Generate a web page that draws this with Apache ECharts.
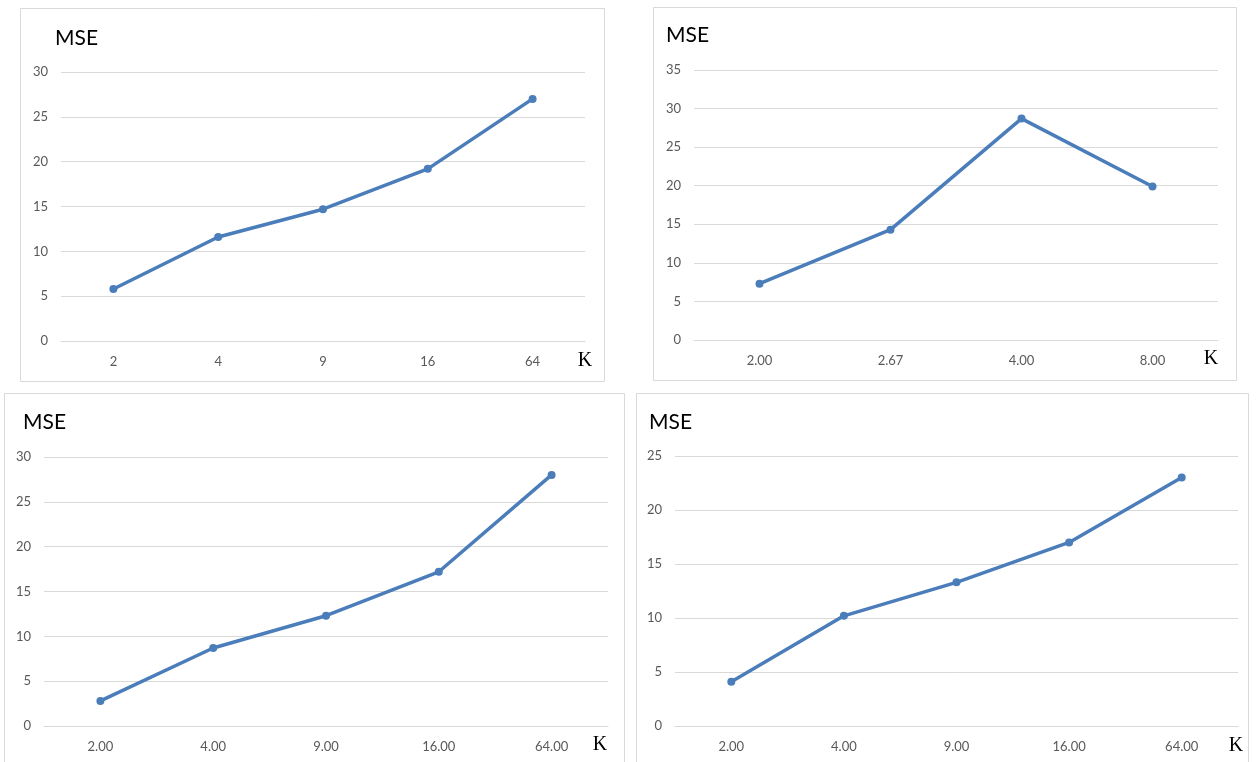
<!DOCTYPE html>
<html>
<head>
<meta charset="utf-8">
<title>MSE vs K</title>
<script src="https://cdn.jsdelivr.net/npm/echarts@6/dist/echarts.min.js"></script>
<style>
  html, body { margin: 0; padding: 0; background: #ffffff; }
  #chart { width: 1258px; height: 762px; }
</style>
</head>
<body>
<div id="chart"></div>
<script>
// K values and MSE results for each of the four experiments
const kLabelsA = ['2', '4', '9', '16', '64'];
const mseA = [5.8, 11.6, 14.7, 19.2, 27.0];

const kLabelsB = ['2.00', '2.67', '4.00', '8.00'];
const mseB = [7.3, 14.3, 28.7, 19.9];

const kLabelsC = ['2.00', '4.00', '9.00', '16.00', '64.00'];
const mseC = [2.8, 8.7, 12.3, 17.2, 28.0];

const kLabelsD = ['2.00', '4.00', '9.00', '16.00', '64.00'];
const mseD = [4.1, 10.2, 13.3, 17.0, 23.0];

const yMaxes = [30, 35, 30, 25];
const yStep = 5;

const yTitle = 'MSE';
const xTitle = 'K';

// Panel layout: frame box, plot area, and positions of the axis titles
const panels = [
  { cats: kLabelsA, vals: mseA, frame: [20, 8, 584, 373], grid: [61, 72, 524, 269], yt: [55, 38], xt: [585, 361] },
  { cats: kLabelsB, vals: mseB, frame: [653, 7, 583, 373], grid: [694, 70, 524, 270], yt: [666, 35], xt: [1211, 359] },
  { cats: kLabelsC, vals: mseC, frame: [4, 393, 620, 380], grid: [44, 457, 564, 269], yt: [23, 422], xt: [600, 745] },
  { cats: kLabelsD, vals: mseD, frame: [636, 393, 612, 380], grid: [675, 456, 563, 270], yt: [649, 422], xt: [1236, 746] }
];

const lineColor = '#4a7dba';
const gridColor = '#d9d9d9';
const labelColor = '#595959';
const sans = 'Lato, "Open Sans", sans-serif';

const option = {
  backgroundColor: '#ffffff',
  animation: false,
  grid: [],
  xAxis: [],
  yAxis: [],
  series: [],
  graphic: []
};

panels.forEach((p, i) => {
  option.grid.push({
    left: p.grid[0], top: p.grid[1], width: p.grid[2], height: p.grid[3],
    containLabel: false
  });
  option.xAxis.push({
    type: 'category',
    gridIndex: i,
    data: p.cats,
    boundaryGap: true,
    axisLine: { show: true, lineStyle: { color: gridColor, width: 1 } },
    axisTick: { show: false },
    axisLabel: { color: labelColor, fontFamily: sans, fontSize: 13, margin: 14 },
    splitLine: { show: false }
  });
  option.yAxis.push({
    type: 'value',
    gridIndex: i,
    min: 0,
    max: yMaxes[i],
    interval: yStep,
    axisLine: { show: false },
    axisTick: { show: false },
    axisLabel: { color: labelColor, fontFamily: sans, fontSize: 13, margin: 13 },
    splitLine: { show: true, lineStyle: { color: gridColor, width: 1 } }
  });
  option.series.push({
    type: 'line',
    xAxisIndex: i,
    yAxisIndex: i,
    data: p.vals,
    symbol: 'circle',
    symbolSize: 8,
    lineStyle: { color: lineColor, width: 3.5 },
    itemStyle: { color: lineColor },
    z: 3
  });
  // panel frame
  option.graphic.push({
    type: 'rect',
    silent: true,
    shape: { x: p.frame[0] + 0.5, y: p.frame[1] + 0.5, width: p.frame[2], height: p.frame[3] },
    style: { fill: 'none', stroke: gridColor, lineWidth: 1 },
    z: 0
  });
  // y-axis title
  option.graphic.push({
    type: 'text',
    silent: true,
    x: p.yt[0], y: p.yt[1],
    style: {
      text: yTitle, fill: '#000000', font: '21px ' + sans,
      textAlign: 'left', textVerticalAlign: 'middle'
    },
    z: 5
  });
  // x-axis title
  option.graphic.push({
    type: 'text',
    silent: true,
    x: p.xt[0], y: p.xt[1],
    style: {
      text: xTitle, fill: '#000000', font: '20px "Liberation Serif", "DejaVu Serif", serif',
      textAlign: 'center', textVerticalAlign: 'middle'
    },
    z: 5
  });
});

const chart = echarts.init(document.getElementById('chart'), null, { renderer: 'canvas' });
chart.setOption(option);
</script>
</body>
</html>
